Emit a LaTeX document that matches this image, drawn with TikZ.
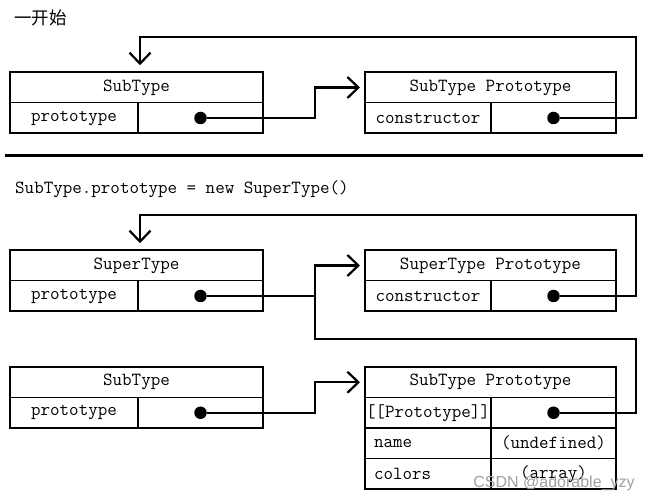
\documentclass[tikz,border=0pt]{standalone}
\usepackage{fontspec}
\usepackage{tikz}
\usetikzlibrary{arrows.meta,positioning}
\newfontfamily\cjkfont{Noto Sans CJK SC}
\newfontfamily\markfont{Liberation Sans}

\begin{document}
\begin{tikzpicture}[x=1pt, y=-1pt,
  cell/.style={draw, line width=1.5pt, inner sep=0pt, outer sep=0pt, minimum height=30.5pt,
    font=\ttfamily\fontsize{18.5}{21}\selectfont},
  headL/.style={cell, minimum width=253pt},
  headR/.style={cell, minimum width=251pt},
  keyL/.style={cell, minimum width=128pt},
  keyR/.style={cell, minimum width=126pt},
  keyText/.style={keyR, text width=108pt, inner xsep=9pt, align=left},
  val/.style={cell, minimum width=125pt},
  dot/.style={circle, fill, inner sep=0pt, minimum size=12.5pt},
  wire/.style={line width=2.2pt},
  link/.style={wire, -{Straight Barb[length=11pt, width=21pt]}, shorten >=5pt}]
  \useasboundingbox (0,0) rectangle (654,502);

  % Texts
  \node[inner sep=0pt, font=\cjkfont\fontsize{17.5}{20}\selectfont] (title) at (40.5,18) {一开始};
  \node[anchor=west, inner sep=0pt, font=\ttfamily\fontsize{18.5}{21}\selectfont] (code) at (15,189)
    {SubType.prototype = new SuperType()};
  \draw[line width=3pt] (5,156) -- (643,156);

  % Nodes: before
  \node[headL] (subHead) at (136.5,87.5) {SubType};
  \node[keyL, below right=0pt and 0pt of subHead.south west] (subKey) {prototype};
  \node[val, right=0pt of subKey] (subVal) {};
  \node[dot] (subDot) at (subVal) {};

  \node[headR] (protoHead) at (490.5,87.5) {SubType Prototype};
  \node[keyR, below right=0pt and 0pt of protoHead.south west] (protoKey) {constructor};
  \node[val, right=0pt of protoKey] (protoVal) {};
  \node[dot] (protoDot) at (protoVal) {};

  % Nodes: after
  \node[headL] (superHead) at (136.5,265.5) {SuperType};
  \node[keyL, below right=0pt and 0pt of superHead.south west] (superKey) {prototype};
  \node[val, right=0pt of superKey] (superVal) {};
  \node[dot] (superDot) at (superVal) {};

  \node[headR] (superProtoHead) at (490.5,265.5) {SuperType Prototype};
  \node[keyR, below right=0pt and 0pt of superProtoHead.south west] (superProtoKey) {constructor};
  \node[val, right=0pt of superProtoKey] (superProtoVal) {};
  \node[dot] (superProtoDot) at (superProtoVal) {};

  \node[headL] (sub2Head) at (136.5,382.25) {SubType};
  \node[keyL, below right=0pt and 0pt of sub2Head.south west] (sub2Key) {prototype};
  \node[val, right=0pt of sub2Key] (sub2Val) {};
  \node[dot] (sub2Dot) at (sub2Val) {};

  \node[headR] (sub2ProtoHead) at (490.5,382.25) {SubType Prototype};
  \node[keyR, below right=0pt and 0pt of sub2ProtoHead.south west] (chainKey) {[[Prototype]]};
  \node[val, right=0pt of chainKey] (chainVal) {};
  \node[dot] (chainDot) at (chainVal) {};
  \node[keyText, below=0pt of chainKey] (nameKey) {name};
  \node[val, right=0pt of nameKey] (nameVal) {(undefined)};
  \node[keyText, below=0pt of nameKey] (colorsKey) {colors};
  \node[val, right=0pt of colorsKey] (colorsVal) {(array)};

  % Bends
  \coordinate (topBend) at (636,37);
  \coordinate (superBend) at (636,215);
  \coordinate (lowBend) at (636,339);
  \coordinate (joinPt) at ([xshift=-50pt]superProtoHead.west |- superDot);

  % Edges
  \draw[link] (subDot) -| ([xshift=-50pt]protoHead.west) -- (protoHead.west);
  \draw[link, shorten >=7pt] (protoDot) -| (topBend) -| ([xshift=3.5pt]subHead.north);
  \draw[link, shorten >=7pt] (superProtoDot) -| (superBend) -| ([xshift=3.5pt]superHead.north);
  \draw[wire] (superDot) -- (joinPt);
  \draw[link] (chainDot) -| (lowBend) -| (joinPt) |- (superProtoHead.west);
  \draw[link] (sub2Dot) -| ([xshift=-50pt]sub2ProtoHead.west) -- (sub2ProtoHead.west);

  % Watermark
  \node[inner sep=0pt, text=gray!75, font=\markfont\fontsize{16}{19}\selectfont] (mark) at (554,483)
    {CSDN @adorable\_yzy};
\end{tikzpicture}
\end{document}
